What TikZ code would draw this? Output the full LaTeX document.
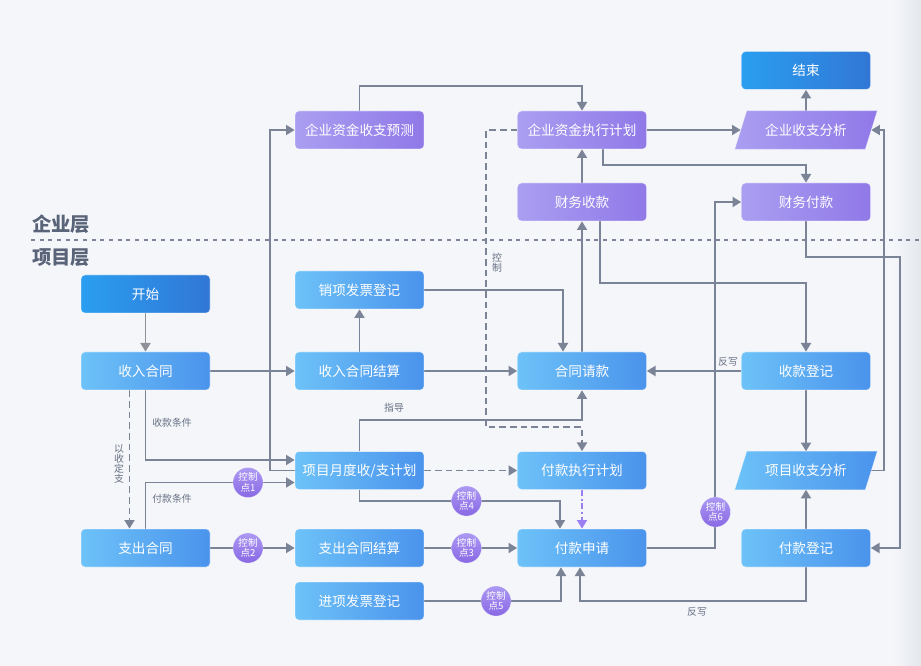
\documentclass[tikz,border=0pt]{standalone}
\usepackage{fontspec}
\setmainfont{Noto Sans CJK SC}
\usetikzlibrary{arrows.meta,calc}
\definecolor{bgc}{HTML}{F4F6FA}
\definecolor{edgec}{HTML}{E4E7EC}
\definecolor{lnc}{HTML}{7B8497}
\definecolor{stc}{HTML}{8E9198}
\definecolor{bA}{HTML}{6DC2F8}
\definecolor{bB}{HTML}{4A93EC}
\definecolor{pA}{HTML}{AA9EF1}
\definecolor{pB}{HTML}{9079E8}
\definecolor{tA}{HTML}{2A9EF0}
\definecolor{tB}{HTML}{3177D5}
\definecolor{cA}{HTML}{AC99F3}
\definecolor{cB}{HTML}{8868E4}
\definecolor{lblc}{HTML}{687083}
\definecolor{layc}{HTML}{5A6478}
\definecolor{vio}{HTML}{9B7FF0}
\pgfdeclarelayer{bg}
\pgfdeclarelayer{lines}
\pgfdeclarelayer{shapes}
\pgfsetlayers{bg,lines,shapes,main}
\begin{document}
\begin{tikzpicture}[x=0.75pt,y=-0.75pt,
 nbox/.style={rectangle,rounded corners=3pt,minimum width=96.75pt,minimum height=28.5pt,inner sep=0pt,text=white,font=\fontsize{10.2pt}{12pt}\selectfont,draw=white,draw opacity=0.45,line width=0.5pt},
 bluebox/.style={nbox,left color=bA,right color=bB},
 purpbox/.style={nbox,left color=pA,right color=pB},
 termbox/.style={nbox,left color=tA,right color=tB},
 parabox/.style={rectangle,minimum width=97.5pt,minimum height=28.5pt,inner sep=0pt,text=white,font=\fontsize{10.2pt}{12pt}\selectfont},
 ctrl/.style={circle,minimum size=22.5pt,inner sep=0pt,top color=cA,bottom color=cB,draw=white,draw opacity=0.4,line width=0.4pt,text=white,font=\fontsize{7.2pt}{8pt}\selectfont,align=center},
 lbl/.style={text=lblc,font=\fontsize{7.4pt}{8pt}\selectfont,inner sep=0pt},
 layertxt/.style={text=layc,font=\fontsize{14.5pt}{16pt}\selectfont\bfseries,inner sep=0pt},
 conn/.style={draw=lnc,line width=1.4pt,-{Triangle[length=6.5pt,width=7.5pt]}},
 dashconn/.style={conn,dash pattern=on 5pt off 3pt},
]
\begin{pgfonlayer}{bg}
\fill[bgc] (0,0) rectangle (921,666);
\shade[left color=bgc,right color=edgec] (893,0) rectangle (921,666);
\useasboundingbox (0,0) rectangle (921,666);
\draw[lnc,line width=0.8pt,dash pattern=on 3pt off 3.5pt] (31,240) -- (921,240);
\end{pgfonlayer}

\node[layertxt] (lyq) at (61,224) {企业层};
\node[layertxt] (lyx) at (61,258) {项目层};

% enterprise level
\node[termbox] (end) at (806,70.5) {结束};
\node[purpbox] (ygys) at (359.5,130) {企业资金收支预测};
\node[purpbox] (zxjh) at (582,130) {企业资金执行计划};
\node[parabox] (qyfx) at (806,130) {企业收支分析};
\node[purpbox] (cwsk) at (582,202) {财务收款};
\node[purpbox] (cwfk) at (806,202) {财务付款};

% project level
\node[termbox] (start) at (145.5,294) {开始};
\node[bluebox] (xxfp) at (359.5,290) {销项发票登记};
\node[bluebox] (srht) at (145.5,371) {收入合同};
\node[bluebox] (srjs) at (359.5,371) {收入合同结算};
\node[bluebox] (htqk) at (582,371) {合同请款};
\node[bluebox] (skdj) at (806,371) {收款登记};
\node[bluebox] (ydjh) at (359.5,470.5) {项目月度收/支计划};
\node[bluebox] (fkzx) at (582,470.5) {付款执行计划};
\node[parabox] (xmfx) at (806,470.5) {项目收支分析};
\node[bluebox] (zcht) at (145.5,548) {支出合同};
\node[bluebox] (zcjs) at (359.5,548) {支出合同结算};
\node[bluebox] (fksq) at (582,548) {付款申请};
\node[bluebox] (fkdj) at (806,548) {付款登记};
\node[bluebox] (jxfp) at (359.5,601) {进项发票登记};

% control points
\node[ctrl] (c1) at (248,482.5) {控制\\点1};
\node[ctrl] (c2) at (248,548) {控制\\点2};
\node[ctrl] (c3) at (466.5,548) {控制\\点3};
\node[ctrl] (c4) at (466.5,501) {控制\\点4};
\node[ctrl] (c5) at (496,601) {控制\\点5};
\node[ctrl] (c6) at (715.5,512) {控制\\点6};

% labels
\node[lbl] (t1) at (172,423) {收款条件};
\node[lbl] (t2) at (172,499) {付款条件};
\node[lbl,align=center,font=\fontsize{7.4pt}{7.7pt}\selectfont] (t3) at (119,464) {以\\收\\定\\支};
\node[lbl] (t4) at (394,408) {指导};
\node[lbl,align=center,font=\fontsize{7.4pt}{7.7pt}\selectfont] (t5) at (497,263) {控\\制};
\node[lbl] (t6) at (728,362) {反写};
\node[lbl] (t7) at (697,612) {反写};

\begin{pgfonlayer}{shapes}
\shade[left color=pA,right color=pB,draw=white,draw opacity=0.45,line width=0.5pt]
 ($(qyfx.south west)+(-6,0)$) -- ($(qyfx.north west)+(6,0)$) -- ($(qyfx.north east)+(6,0)$) -- ($(qyfx.south east)+(-6,0)$) -- cycle;
\shade[left color=bA,right color=bB,draw=white,draw opacity=0.45,line width=0.5pt]
 ($(xmfx.south west)+(-6,0)$) -- ($(xmfx.north west)+(6,0)$) -- ($(xmfx.north east)+(6,0)$) -- ($(xmfx.south east)+(-6,0)$) -- cycle;
\end{pgfonlayer}

\begin{pgfonlayer}{lines}
\draw[conn,draw=stc] (start.south) -- (srht.north);
\draw[conn] (srht.east) -- (srjs.west);
\draw[conn] (srjs.north) -- (xxfp.south);
\draw[conn] (srjs.east) -- (htqk.west);
\draw[conn] (xxfp.east) -| ($(htqk.north)+(-19,0)$);
\draw[conn] (htqk.north) -- (cwsk.south);
\draw[conn] (cwsk.north) -- (zxjh.south);
\draw[conn] (ygys.north) -- ++(0,-25) -| (zxjh.north);
\draw[conn] (zxjh.east) -- (qyfx.west);
\draw[conn] (qyfx.north) -- (end.south);
\draw[conn] ($(zxjh.south)+(21,0)$) -- ++(0,16) -| (cwfk.north);
\draw[dashconn] (zxjh.west) -- ++(-31,0) |- ($(fkzx.north)+(0,-24)$) -- (fkzx.north);
\draw[conn] ($(cwsk.south)+(18,0)$) -- ++(0,62) -| (skdj.north);
\draw[conn] (cwfk.south) -- ++(0,36) -| ($(fkdj.east)+(29,0)$) -- (fkdj.east);
\draw[conn] (xmfx.east) -- ++(13,0) |- (qyfx.east);
\draw[conn] (fksq.east) -| ($(cwfk.west)+(-26,0)$) -- (cwfk.west);
\draw[conn] (skdj.west) -- (htqk.east);
\draw[conn] (skdj.south) -- (xmfx.north);
\draw[conn] (fkdj.north) -- (xmfx.south);
\draw[conn] (fkdj.south) -- ++(0,34) -| ($(fksq.south)+(-2,0)$);
\draw[conn] (srht.south) |- ($(ydjh.west)+(0,-10.5)$);
\draw[dashconn] ($(srht.south)+(-16,0)$) -- ($(zcht.north)+(-16,0)$);
\draw[conn] (zcht.north) |- ($(ydjh.west)+(0,12)$);
\draw[conn] (ydjh.west) -- ++(-25,0) |- (ygys.west);
\draw[conn] (zcht.east) -- (zcjs.west);
\draw[conn] (ydjh.north) -- ++(0,-31.5) -| (htqk.south);
\draw[dashconn] (ydjh.east) -- (fkzx.west);
\draw[conn] (ydjh.south) |- ($(fksq.north)+(-22,-28)$) -- ($(fksq.north)+(-22,0)$);
\draw[conn] (zcjs.east) -- (fksq.west);
\draw[conn,draw=vio,dash pattern=on 4.5pt off 2pt on 1.5pt off 2pt] (fkzx.south) -- (fksq.north);
\draw[conn] (jxfp.east) -| ($(fksq.south)+(-21,0)$);
\end{pgfonlayer}
\end{tikzpicture}
\end{document}
